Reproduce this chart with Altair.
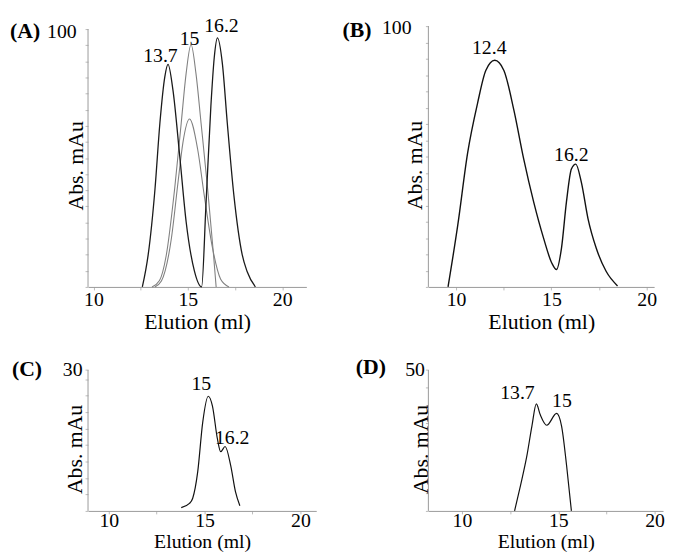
import altair as alt
import pandas as pd

FONT = "'Liberation Serif', 'Times New Roman', Times, 'DejaVu Serif', serif"

# ---------------- data (elution ml, absorbance mAu) ----------------
# Panel A
a_dark_x = [12.59, 12.9, 13.26, 13.52, 13.78, 13.95, 14.21, 14.57, 14.91, 15.35, 15.73,
            15.96, 16.22, 16.4, 16.57, 16.83, 17.09, 17.44, 17.88, 18.14, 18.58]
a_dark_y = [0, 12.5, 38, 63.6, 81.5, 86.3, 76.4, 50.8, 25.3, 6.1, 0,
            31.7, 70, 89, 96.6, 86.6, 63.6, 35.5, 12.5, 6, 0]
a_narrow_x = [13.1, 13.5, 13.85, 14.3, 14.65, 14.91, 15.17, 15.43, 15.7, 16.05, 16.36, 16.5]
a_narrow_y = [0, 2.5, 12, 38, 63.6, 82.8, 94, 82.8, 63.6, 38, 12.6, 0]
a_broad_x = [13.25, 13.6, 14.13, 14.48, 14.74, 15.09, 15.52, 15.87, 16.31, 16.74, 17.18]
a_broad_y = [0, 2.3, 18.9, 40.6, 56, 65.1, 53.4, 35.5, 15, 3, 0]
a_lab_text = ["13.7", "15", "16.2"]
a_lab_x = [13.55, 15.09, 16.78]
a_lab_y = [89.7, 96.2, 101.3]

# Panel B
b_x = [9.58, 10.09, 10.61, 11.13, 11.56, 12.03, 12.51, 13.03, 13.55, 14.07, 14.59, 15.02,
       15.27, 15.53, 15.79, 16.05, 16.28, 16.57, 16.92, 17.35, 17.87, 18.47]
b_y = [0, 23.7, 51.5, 70.5, 83, 86.9, 83, 67.9, 49, 32.6, 18.7, 9.2,
       6.7, 14.9, 32.6, 45.2, 47.1, 40.2, 26.2, 14.9, 6, 0.4]
b_lab_text = ["12.4", "16.2"]
b_lab_x = [11.74, 16.05]
b_lab_y = [91.7, 50.4]

# Panel C
c_x = [13.78, 14.21, 14.38, 14.64, 14.9, 15.19, 15.41, 15.67, 15.84, 16.07, 16.36, 16.61, 16.84]
c_y = [0.7, 1.6, 2.7, 8.3, 18.8, 24.4, 22.3, 15.3, 12.6, 13.7, 9.7, 4.1, 1.1]
c_lab_text = ["15", "16.2"]
c_lab_x = [14.83, 16.44]
c_lab_y = [26.9, 15.6]

# Panel D
d_x = [12.73, 13.04, 13.37, 13.63, 13.86, 14.06, 14.4, 14.91, 15.17, 15.43, 15.68]
d_y = [0, 9.1, 19.6, 30.1, 38, 34.2, 30.4, 34.6, 30.1, 16.1, 0]
d_lab_text = ["13.7", "15"]
d_lab_x = [12.88, 15.19]
d_lab_y = [41.7, 38.9]

# axis ticks
x_ticks = [10, 12.5, 15, 17.5, 20]
ab_y_ticks = [0, 6.25, 12.5, 18.75, 25, 31.25, 37.5, 43.75, 50, 56.25, 62.5, 68.75,
              75, 81.25, 87.5, 93.75, 100]
c_y_ticks = [0, 3.5, 7, 10.5, 14, 17.5, 21, 24.5, 28, 30]
d_y_ticks = [0, 6.25, 12.5, 18.75, 25, 31.25, 37.5, 43.75, 50]


def panel(lines, lab_text, lab_x, lab_y, xdom, ydom, ytop, yticks, width, height,
          tag, tag_x, tag_y, lab_pad, lab_off, title_x, title_y,
          xtitle_y, xlab_pad, xtitle_size):
    X = alt.X("x:Q",
              scale=alt.Scale(domain=xdom, nice=False, zero=False),
              axis=alt.Axis(values=x_ticks,
                            labelExpr="datum.value % 5 == 0 ? datum.label : ''",
                            title="Elution (ml)", grid=False,
                            domainColor="#999999", domainWidth=1,
                            tickColor="#bbbbbb", tickSize=3,
                            labelFont=FONT, labelFontSize=20, labelColor="black",
                            labelPadding=xlab_pad, labelOverlap=False, labelFlush=False,
                            titleFont=FONT, titleFontSize=xtitle_size,
                            titleFontWeight="normal",
                            titleColor="black", titleY=xtitle_y, titleBaseline="top"))
    Y = alt.Y("y:Q",
              scale=alt.Scale(domain=ydom, nice=False, zero=False),
              axis=alt.Axis(values=yticks,
                            labelExpr=f"datum.value == {ytop} ? datum.label : ''",
                            title="Abs. mAu", grid=False, domain=False,
                            tickColor="#bbbbbb", tickSize=3,
                            labelFont=FONT, labelFontSize=20, labelColor="black",
                            labelPadding=lab_pad, labelOffset=lab_off,
                            labelOverlap=False, labelFlush=False,
                            titleFont=FONT, titleFontSize=22, titleFontWeight="normal",
                            titleColor="black", titleAngle=270,
                            titleBaseline="alphabetic", titleAlign="center",
                            titleX=title_x, titleY=title_y))
    layers = []
    axis_df = pd.DataFrame({"y": [0], "y2": [ytop]})
    layers.append(alt.Chart(axis_df).mark_rule(color="#999999", strokeWidth=1)
                  .encode(x=alt.value(0), y=Y, y2="y2:Q"))
    for xs, ys, col, sw in lines:
        df = pd.DataFrame({"x": xs, "y": ys})
        layers.append(alt.Chart(df).mark_line(interpolate="monotone", color=col,
                                              strokeWidth=sw).encode(x=X, y=Y))
    lab_df = pd.DataFrame({"x": lab_x, "y": lab_y, "t": lab_text})
    layers.append(alt.Chart(lab_df).mark_text(font=FONT, fontSize=20, color="black",
                                              align="center", baseline="middle")
                  .encode(x=X, y=Y, text="t:N"))
    tag_df = pd.DataFrame({"t": [tag]})
    layers.append(alt.Chart(tag_df).mark_text(font=FONT, fontSize=22, fontWeight="bold",
                                              color="black", align="left", baseline="middle")
                  .encode(x=alt.value(tag_x), y=alt.value(tag_y), text="t:N"))
    return alt.layer(*layers).properties(width=width, height=height)


pA = panel([(a_broad_x, a_broad_y, "#808080", 1.1),
            (a_narrow_x, a_narrow_y, "#808080", 1.1),
            (a_dark_x, a_dark_y, "#1a1a1a", 1.3)],
           a_lab_text, a_lab_x, a_lab_y,
           [9.712, 21.28], [0, 101.15], 100, ab_y_ticks, 221, 264,
           "(A)", -79, 5.5, 9, 2.5, -6, 141, 25, 0, 22)
pB = panel([(b_x, b_y, "#111111", 1.4)],
           b_lab_text, b_lab_x, b_lab_y,
           [8.549, 20.389], [0, 100], 100, ab_y_ticks, 228.5, 264,
           "(B)", -87, 4, 14.5, 1, -6.5, 140.5, 25, 0, 22)
pC = panel([(c_x, c_y, "#111111", 1.2)],
           c_lab_text, c_lab_x, c_lab_y,
           [8.918, 20.825], [0, 31.95], 30, c_y_ticks, 231, 152,
           "(C)", -77, 8.3, 3, 0, -7, 89.3, 21.5, -3.5, 20)
pD = panel([(d_x, d_y, "#111111", 1.2)],
           d_lab_text, d_lab_x, d_lab_y,
           [8.256, 20.436], [0, 53.3], 50, d_y_ticks, 237.5, 152,
           "(D)", -73.5, 6, 1, 0, -1, 89.3, 21.5, -3.5, 20)

chart = (alt.concat(pA, pB, pC, pD, columns=2,
                    spacing={"row": 74.7, "column": 113.5},
                    bounds="flush", align="each")
         .properties(padding={"left": 2, "top": 4, "right": 0, "bottom": 0})
         .configure_view(stroke=None))

chart.save("out.html", embed_options={"renderer": "svg", "actions": False})
